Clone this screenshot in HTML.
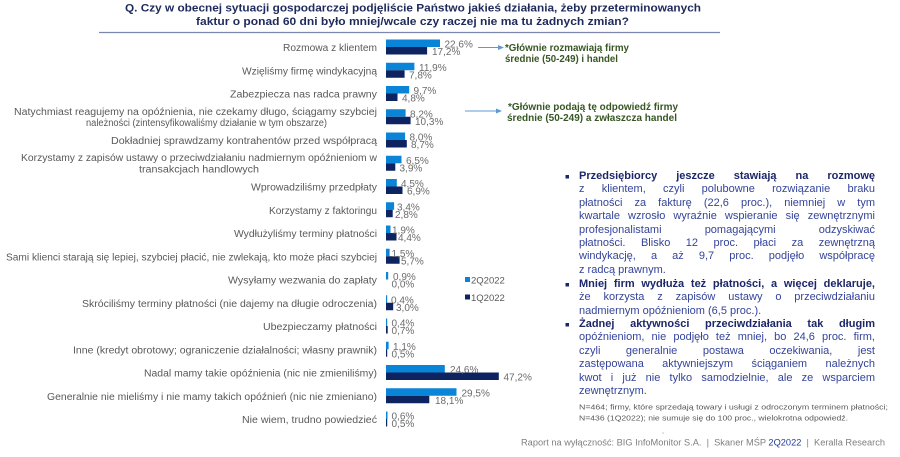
<!DOCTYPE html>
<html><head><meta charset="utf-8"><style>
html,body{margin:0;padding:0;background:#fff;}
#wrap{position:relative;width:900px;height:457px;overflow:hidden;}
svg{display:block;position:absolute;left:0;top:0;}
text{font-family:"Liberation Sans","DejaVu Sans",sans-serif;}
.lab{font-size:10px;fill:#595959;}
.val{font-size:10px;fill:#6b6b6b;}
.ann{font-size:10px;font-weight:bold;fill:#375623;}
#rt{position:absolute;left:579px;top:170px;width:296px;font-family:"Liberation Sans","DejaVu Sans",sans-serif;font-size:11px;line-height:13.4px;color:#34449a;}
#rt div{height:13.4px;text-align:justify;text-align-last:justify;white-space:nowrap;}
#rt div.l{text-align:left;text-align-last:left;}
#rt div.b{font-weight:bold;color:#1c2769;}
#rt div.gap{margin-top:0.8px;}
</style></head><body>
<div id="wrap">
<svg width="900" height="457" viewBox="0 0 900 457" xmlns="http://www.w3.org/2000/svg">
<rect width="900" height="457" fill="#fff"/>
<!-- title -->
<text x="125" y="11.5" font-size="11" font-weight="bold" fill="#1f2a5c" textLength="576" lengthAdjust="spacingAndGlyphs">Q. Czy w obecnej sytuacji gospodarczej podjęliście Państwo jakieś działania, żeby przeterminowanych</text>
<text x="196" y="25" font-size="11" font-weight="bold" fill="#1f2a5c" textLength="433" lengthAdjust="spacingAndGlyphs">faktur o ponad 60 dni było mniej/wcale czy raczej nie ma tu żadnych zmian?</text>
<line x1="99" y1="32.5" x2="720" y2="32.5" stroke="#7b87b0" stroke-width="1.2"/>

<!-- category labels -->
<g class="lab">
<text x="283" y="51" textLength="94" lengthAdjust="spacingAndGlyphs">Rozmowa z klientem</text>
<text x="242" y="74.25" textLength="135" lengthAdjust="spacingAndGlyphs">Wzięliśmy firmę windykacyjną</text>
<text x="230" y="97.5" textLength="147" lengthAdjust="spacingAndGlyphs">Zabezpiecza nas radca prawny</text>
<text x="14" y="115" textLength="363" lengthAdjust="spacingAndGlyphs">Natychmiast reagujemy na opóźnienia, nie czekamy długo, ściągamy szybciej</text>
<text x="86" y="126" textLength="241" lengthAdjust="spacingAndGlyphs">należności (zintensyfikowaliśmy działanie w tym obszarze)</text>
<text x="111" y="144" textLength="266" lengthAdjust="spacingAndGlyphs">Dokładniej sprawdzamy kontrahentów przed współpracą</text>
<text x="21" y="161" textLength="356" lengthAdjust="spacingAndGlyphs">Korzystamy z zapisów ustawy o przeciwdziałaniu nadmiernym opóźnieniom w</text>
<text x="139" y="172.5" textLength="120" lengthAdjust="spacingAndGlyphs">transakcjach handlowych</text>
<text x="251" y="190.5" textLength="126" lengthAdjust="spacingAndGlyphs">Wprowadziliśmy przedpłaty</text>
<text x="269" y="213.75" textLength="108" lengthAdjust="spacingAndGlyphs">Korzystamy z faktoringu</text>
<text x="234" y="237" textLength="143" lengthAdjust="spacingAndGlyphs">Wydłużyliśmy terminy płatności</text>
<text x="6" y="260.25" textLength="371" lengthAdjust="spacingAndGlyphs">Sami klienci starają się lepiej, szybciej płacić, nie zwlekają, kto może płaci szybciej</text>
<text x="228" y="283.5" textLength="149" lengthAdjust="spacingAndGlyphs">Wysyłamy wezwania do zapłaty</text>
<text x="82" y="306.75" textLength="295" lengthAdjust="spacingAndGlyphs">Skróciliśmy terminy płatności (nie dajemy na długie odroczenia)</text>
<text x="263" y="330" textLength="114" lengthAdjust="spacingAndGlyphs">Ubezpieczamy płatności</text>
<text x="73" y="353.25" textLength="304" lengthAdjust="spacingAndGlyphs">Inne (kredyt obrotowy; ograniczenie działalności; własny prawnik)</text>
<text x="144" y="376.5" textLength="233" lengthAdjust="spacingAndGlyphs">Nadal mamy takie opóźnienia (nic nie zmieniliśmy)</text>
<text x="47" y="399.75" textLength="330" lengthAdjust="spacingAndGlyphs">Generalnie nie mieliśmy i nie mamy takich opóźnień (nic nie zmieniano)</text>
<text x="242" y="423" textLength="135" lengthAdjust="spacingAndGlyphs">Nie wiem, trudno powiedzieć</text>
</g>

<!-- bars: 2Q (light) -->
<g fill="#0a84d6">
<rect x="386" y="39.5" width="54.0" height="7.5"/>
<rect x="386" y="62.75" width="28.4" height="7.5"/>
<rect x="386" y="86" width="23.2" height="7.5"/>
<rect x="386" y="109.25" width="19.6" height="7.5"/>
<rect x="386" y="132.5" width="19.1" height="7.5"/>
<rect x="386" y="155.75" width="15.5" height="7.5"/>
<rect x="386" y="179" width="10.8" height="7.5"/>
<rect x="386" y="202.25" width="8.1" height="7.5"/>
<rect x="386" y="225.5" width="4.5" height="7.5"/>
<rect x="386" y="248.75" width="3.6" height="7.5"/>
<rect x="386" y="272" width="2.2" height="7.5"/>
<rect x="386" y="295.25" width="1.2" height="7.5"/>
<rect x="386" y="318.5" width="1.2" height="7.5"/>
<rect x="386" y="341.75" width="2.6" height="7.5"/>
<rect x="386" y="365" width="58.8" height="7.5"/>
<rect x="386" y="388.25" width="70.5" height="7.5"/>
<rect x="386" y="411.5" width="1.5" height="7.5"/>
</g>
<!-- bars: 1Q (dark) -->
<g fill="#0d2461">
<rect x="386" y="47" width="41.1" height="7.5"/>
<rect x="386" y="70.25" width="18.6" height="7.5"/>
<rect x="386" y="93.5" width="11.5" height="7.5"/>
<rect x="386" y="116.75" width="24.6" height="7.5"/>
<rect x="386" y="140" width="20.8" height="7.5"/>
<rect x="386" y="163.25" width="9.3" height="7.5"/>
<rect x="386" y="186.5" width="16.5" height="7.5"/>
<rect x="386" y="209.75" width="6.7" height="7.5"/>
<rect x="386" y="233" width="10.5" height="7.5"/>
<rect x="386" y="256.25" width="13.6" height="7.5"/>
<rect x="386" y="302.75" width="7.2" height="7.5"/>
<rect x="386" y="326" width="1.7" height="7.5"/>
<rect x="386" y="349.25" width="1.2" height="7.5"/>
<rect x="386" y="372.5" width="112.8" height="7.5"/>
<rect x="386" y="395.75" width="43.3" height="7.5"/>
<rect x="386" y="419" width="1.2" height="7.5"/>
</g>

<!-- value labels -->
<g class="val">
<text x="444.5" y="47.5">22,6%</text><text x="432" y="55">17,2%</text>
<text x="419" y="70.75">11,9%</text><text x="409" y="78.25">7,8%</text>
<text x="413.5" y="94">9,7%</text><text x="402" y="101.5">4,8%</text>
<text x="410" y="117.25">8,2%</text><text x="415" y="124.75">10,3%</text>
<text x="409.5" y="140.5">8,0%</text><text x="411" y="148">8,7%</text>
<text x="406" y="163.75">6,5%</text><text x="399.5" y="171.25">3,9%</text>
<text x="401" y="187">4,5%</text><text x="407" y="194.5">6,9%</text>
<text x="397" y="210.25">3,4%</text><text x="395" y="217.75">2,8%</text>
<text x="392" y="233.5">1,9%</text><text x="398" y="241">4,4%</text>
<text x="391.5" y="256.75">1,5%</text><text x="401" y="264.25">5,7%</text>
<text x="393" y="280">0,9%</text><text x="391.5" y="287.5">0,0%</text>
<text x="391" y="303.25">0,4%</text><text x="396" y="310.75">3,0%</text>
<text x="391.5" y="326.5">0,4%</text><text x="391.5" y="334">0,7%</text>
<text x="393" y="349.75">1,1%</text><text x="391.5" y="357.25">0,5%</text>
<text x="450" y="373">24,6%</text><text x="503.5" y="380.5">47,2%</text>
<text x="461.5" y="396.25">29,5%</text><text x="435" y="403.75">18,1%</text>
<text x="391.5" y="419.5">0,6%</text><text x="391.5" y="427">0,5%</text>
</g>

<!-- legend -->
<rect x="465" y="277" width="5" height="5" fill="#0a84d6"/>
<text x="471" y="283.5" font-size="9.5" fill="#595959">2Q2022</text>
<rect x="465" y="294.5" width="5" height="5" fill="#0d2461"/>
<text x="471" y="301" font-size="9.5" fill="#595959">1Q2022</text>

<!-- annotations -->
<line x1="478" y1="47.5" x2="499" y2="47.5" stroke="#5b9bd5" stroke-width="1"/>
<polygon points="498,45 504,47.5 498,50" fill="#5b9bd5"/>
<text class="ann" x="505" y="51" textLength="124" lengthAdjust="spacingAndGlyphs">*Głównie rozmawiają firmy</text>
<text class="ann" x="505" y="62" textLength="113" lengthAdjust="spacingAndGlyphs">średnie (50-249) i handel</text>
<line x1="465" y1="111" x2="497" y2="111" stroke="#5b9bd5" stroke-width="1"/>
<polygon points="496,108.5 502,111 496,113.5" fill="#5b9bd5"/>
<text class="ann" x="508" y="110" textLength="170" lengthAdjust="spacingAndGlyphs">*Głównie podają tę odpowiedź firmy</text>
<text class="ann" x="507" y="121" textLength="170" lengthAdjust="spacingAndGlyphs">średnie (50-249) a zwłaszcza handel</text>

<!-- bullets -->
<g fill="#1c2769">
<rect x="565.5" y="175" width="3.5" height="3.5"/>
<rect x="565.5" y="283" width="3.5" height="3.5"/>
<rect x="565.5" y="323" width="3.5" height="3.5"/>
</g>

<!-- footnote -->
<text x="579" y="409.5" font-size="7.5" fill="#595959" textLength="309" lengthAdjust="spacingAndGlyphs">N=464; firmy, które sprzedają towary i usługi z odroczonym terminem płatności;</text>
<text x="579" y="420.5" font-size="7.5" fill="#595959" textLength="269" lengthAdjust="spacingAndGlyphs">N=436 (1Q2022); nie sumuje się do 100 proc., wielokrotna odpowiedź.</text>

<!-- footer -->
<circle cx="663" cy="433" r="0.6" fill="#999"/>
<text x="521" y="445.5" font-size="9" fill="#7f7f7f" textLength="364" lengthAdjust="spacingAndGlyphs">Raport na wyłączność: BIG InfoMonitor S.A.&#160;&#160;|&#160;&#160;Skaner MŚP <tspan fill="#1f3d99">2Q2022</tspan>&#160;&#160;|&#160;&#160;Keralla Research</text>
</svg>

<div id="rt">
<div class="b">Przedsiębiorcy jeszcze stawiają na rozmowę</div>
<div>z klientem, czyli polubowne rozwiązanie braku</div>
<div>płatności za fakturę (22,6 proc.), niemniej w tym</div>
<div>kwartale wzrosło wyraźnie wspieranie się zewnętrznymi</div>
<div>profesjonalistami pomagającymi odzyskiwać</div>
<div>płatności. Blisko 12 proc. płaci za zewnętrzną</div>
<div>windykację, a aż 9,7 proc. podjęło współpracę</div>
<div class="l">z radcą prawnym.</div>
<div class="b gap">Mniej firm wydłuża też płatności, a więcej deklaruje,</div>
<div>że korzysta z zapisów ustawy o przeciwdziałaniu</div>
<div class="l">nadmiernym opóźnieniom (6,5 proc.).</div>
<div class="b">Żadnej aktywności przeciwdziałania tak długim</div>
<div>opóźnieniom, nie podjęło też mniej, bo 24,6 proc. firm,</div>
<div>czyli generalnie postawa oczekiwania, jest</div>
<div>zastępowana aktywniejszym ściąganiem należnych</div>
<div>kwot i już nie tylko samodzielnie, ale ze wsparciem</div>
<div class="l">zewnętrznym.</div>
</div>
</div>
</body></html>
